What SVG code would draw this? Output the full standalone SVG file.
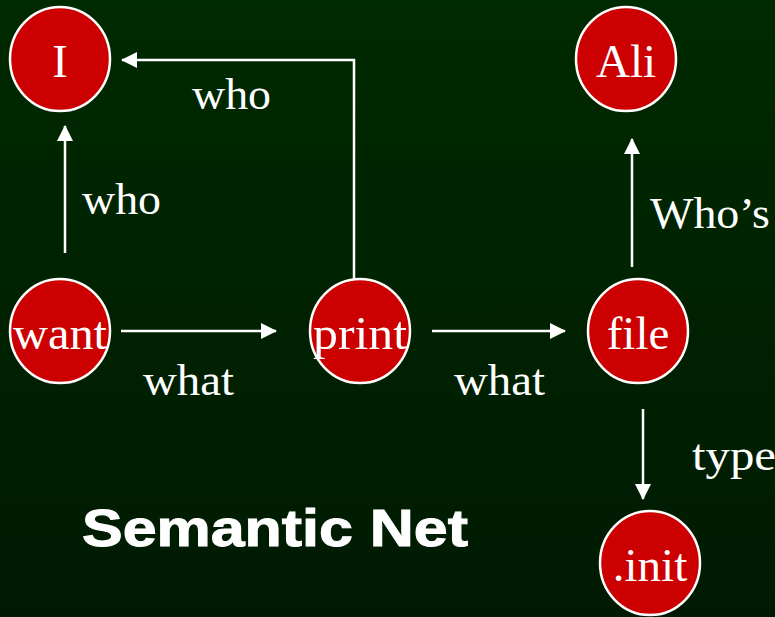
<svg xmlns="http://www.w3.org/2000/svg" width="775" height="617" viewBox="0 0 775 617">
  <defs>
    <linearGradient id="bg" x1="0" y1="0" x2="0" y2="1">
      <stop offset="0" stop-color="#002a00"/>
      <stop offset="1" stop-color="#001a02"/>
    </linearGradient>
    <marker id="head" viewBox="0 0 16 16" refX="15" refY="8" markerWidth="16" markerHeight="16" markerUnits="userSpaceOnUse" orient="auto">
      <path d="M0,0 L16,8 L0,16 Z" fill="#ffffff"/>
    </marker>
    <style>
      .node { fill: #cc0000; stroke: #ffffff; stroke-width: 2.5; }
      .nlabel { font-family: "Liberation Serif", "Times New Roman", serif; font-size: 47px; fill: #ffffff; text-anchor: middle; }
      .elabel { font-family: "Liberation Serif", "Times New Roman", serif; font-size: 45px; fill: #ffffff; }
      .edge { fill: none; stroke: #ffffff; stroke-width: 2.5; }
      .title { font-family: "Liberation Sans", Arial, sans-serif; font-weight: bold; font-size: 52px; fill: #ffffff; stroke: #ffffff; stroke-width: 1; }
    </style>
  </defs>

  <rect x="0" y="0" width="775" height="617" fill="url(#bg)"/>

  <!-- connectors -->
  <g id="connectors">
    <line class="edge" x1="65" y1="253" x2="65" y2="126" marker-end="url(#head)"/>
    <polyline class="edge" points="354,280 354,60 122,60" marker-end="url(#head)"/>
    <line class="edge" x1="632" y1="267" x2="632" y2="139" marker-end="url(#head)"/>
    <line class="edge" x1="121" y1="331" x2="276" y2="331" marker-end="url(#head)"/>
    <line class="edge" x1="432" y1="331" x2="565" y2="331" marker-end="url(#head)"/>
    <line class="edge" x1="643" y1="409" x2="643" y2="499" marker-end="url(#head)"/>

    <text class="elabel" x="192" y="109" textLength="79" lengthAdjust="spacingAndGlyphs">who</text>
    <text class="elabel" x="82" y="214" textLength="79" lengthAdjust="spacingAndGlyphs">who</text>
    <text class="elabel" x="650" y="228" textLength="120" lengthAdjust="spacingAndGlyphs">Who’s</text>
    <text class="elabel" x="143" y="395" textLength="91" lengthAdjust="spacingAndGlyphs">what</text>
    <text class="elabel" x="454" y="395" textLength="91" lengthAdjust="spacingAndGlyphs">what</text>
    <text class="elabel" x="692" y="470" textLength="84" lengthAdjust="spacingAndGlyphs">type</text>
  </g>

  <!-- nodes -->
  <g id="node-I">
    <ellipse class="node" cx="60" cy="59" rx="50" ry="52"/>
    <text class="nlabel" x="60" y="77">I</text>
  </g>
  <g id="node-Ali">
    <ellipse class="node" cx="626" cy="59" rx="50" ry="52"/>
    <text class="nlabel" x="626" y="77">Ali</text>
  </g>
  <g id="node-want">
    <ellipse class="node" cx="60" cy="331" rx="50" ry="52"/>
    <text class="nlabel" x="60" y="349" textLength="94" lengthAdjust="spacingAndGlyphs">want</text>
  </g>
  <g id="node-print">
    <ellipse class="node" cx="360" cy="331" rx="50" ry="52"/>
    <text class="nlabel" x="360" y="349" textLength="94" lengthAdjust="spacingAndGlyphs">print</text>
  </g>
  <g id="node-file">
    <ellipse class="node" cx="638" cy="331" rx="50" ry="52"/>
    <text class="nlabel" x="638" y="349">file</text>
  </g>
  <g id="node-init">
    <ellipse class="node" cx="650" cy="563" rx="50" ry="52"/>
    <text class="nlabel" x="650" y="581">.init</text>
  </g>

  <text class="title" x="82" y="546" textLength="386" lengthAdjust="spacingAndGlyphs">Semantic Net</text>
</svg>
